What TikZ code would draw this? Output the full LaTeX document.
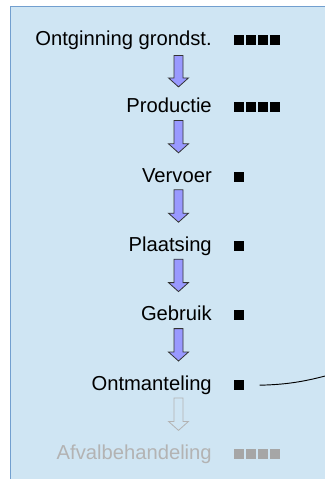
\documentclass[tikz,border=0pt]{standalone}
\usepackage{fontspec}
\setmainfont{Liberation Sans}
\usetikzlibrary{calc}
\definecolor{bgblue}{HTML}{CFE5F3}
\definecolor{edgeblue}{HTML}{729FCF}
\definecolor{arrowfill}{HTML}{9999FF}
\definecolor{fadegray}{HTML}{B3B3B3}
\definecolor{fadesq}{HTML}{A6A6A6}
\newcommand{\sqfour}{\rule{7.5pt}{7.5pt}\hspace{1.5pt}\rule{7.5pt}{7.5pt}\hspace{1.5pt}\rule{7.5pt}{7.5pt}\hspace{1.5pt}\rule{7.5pt}{7.5pt}}
\newcommand{\sqone}{\rule{7.5pt}{7.5pt}}
\begin{document}
\begin{tikzpicture}[x=0.75pt,y=-0.75pt,
  lbl/.style={anchor=base east, inner sep=0pt, font=\fontsize{15.15}{18}\selectfont},
  sqs/.style={anchor=west, inner sep=0pt},
  barrow/.style={fill=arrowfill, draw=black!80, line width=0.6pt, line join=miter},
  garrow/.style={fill=none, draw=fadegray, line width=0.6pt, line join=miter}]
\useasboundingbox (0,0) rectangle (325,479);
\clip (0,0) rectangle (325,479);
\draw[fill=bgblue, draw=edgeblue, line width=1.1pt] (10.7,6.7) rectangle (345,500);
% labels
\node[lbl] (r1) at (212,45.5) {Ontginning grondst.};
\node[lbl] (r2) at (212,112.6) {Productie};
\node[lbl] (r3) at (212,182) {Vervoer};
\node[lbl] (r4) at (212,251.4) {Plaatsing};
\node[lbl] (r5) at (212,320.8) {Gebruik};
\node[lbl] (r6) at (212,390.2) {Ontmanteling};
\node[lbl, text=fadegray] (r7) at (212,459.6) {Afvalbehandeling};
% squares
\node[sqs] (s1) at (234,39.8) {\sqfour};
\node[sqs] (s2) at (234,107.2) {\sqfour};
\node[sqs] (s3) at (234,176.6) {\sqone};
\node[sqs] (s4) at (234,246) {\sqone};
\node[sqs] (s5) at (234,315.4) {\sqone};
\node[sqs] (s6) at (234,384.8) {\sqone};
\node[sqs, text=fadesq] (s7) at (234,454.2) {\sqfour};
% block arrows
\coordinate (a1) at (178.5,55.5);
\draw[barrow] (a1) ++(-4.5,0) -- ++(9,0) -- ++(0,22.4) -- ++(5.5,0) -- ++(-10,9) -- ++(-10,-9) -- ++(5.5,0) -- cycle;
\foreach \i/\y in {2/120.4,3/189.8,4/259.2,5/328.6}{
  \coordinate (a\i) at (178.5,\y);
  \draw[barrow] (a\i) ++(-4.5,0) -- ++(9,0) -- ++(0,23.4) -- ++(5.5,0) -- ++(-10,9) -- ++(-10,-9) -- ++(5.5,0) -- cycle;
}
\coordinate (a6) at (178.5,398);
\draw[garrow] (a6) ++(-4.5,0) -- ++(9,0) -- ++(0,23.4) -- ++(5.5,0) -- ++(-10,9) -- ++(-10,-9) -- ++(5.5,0) -- cycle;
% connector
\coordinate (c0) at ($(s6.east)+(15,0.4)$);
\coordinate (c1) at (340,372);
\draw[black, line width=0.7pt] (c0) .. controls (290,384.5) and (308,381) .. (c1);
\end{tikzpicture}
\end{document}
